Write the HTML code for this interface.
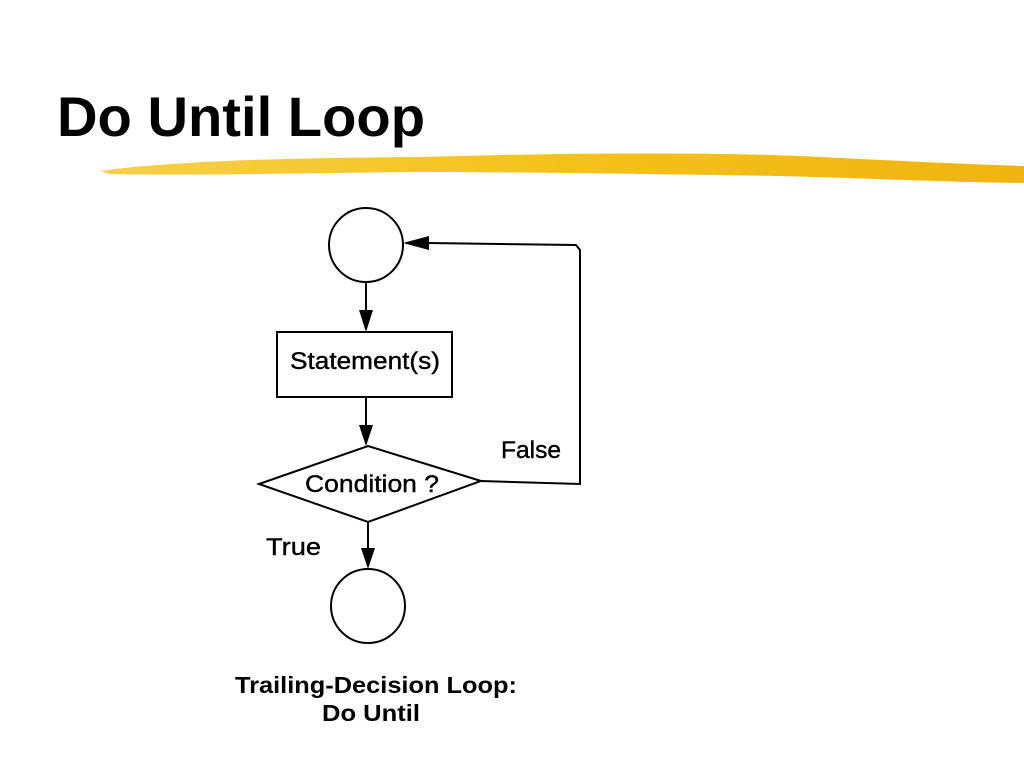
<!DOCTYPE html>
<html><head><style>
body{margin:0;background:#fff;}
svg{display:block;}
</style></head><body>
<svg width="1024" height="768" viewBox="0 0 1024 768" xmlns="http://www.w3.org/2000/svg">
<defs>
<linearGradient id="g" x1="0" x2="1" y1="0" y2="0">
<stop offset="0" stop-color="#f7d04a"/>
<stop offset="0.5" stop-color="#f3c21a"/>
<stop offset="1" stop-color="#f0b410"/>
</linearGradient>
</defs>
<text x="57" y="136" font-family="Liberation Sans, sans-serif" font-weight="bold" font-size="56" textLength="368" lengthAdjust="spacingAndGlyphs" fill="#000">Do Until Loop</text>
<path d="M100,171 C180,160 300,158 420,157 C560,153 700,152 800,156 C880,160 960,164 1024,166 L1024,183 C940,182 860,178 780,176 C650,174 520,172 420,172 C300,173 190,176 110,174 Z" fill="url(#g)"/>
<g stroke="#000" stroke-width="2" fill="none">
<circle cx="366" cy="245" r="37"/>
<rect x="277" y="332" width="175" height="65"/>
<polygon points="259,484 368,446 481,481 368,522"/>
<circle cx="368" cy="606" r="37"/>
<line x1="366" y1="282" x2="366" y2="312"/>
<line x1="366" y1="397" x2="366" y2="428"/>
<line x1="368" y1="522" x2="368" y2="550"/>
<polyline points="481,481 580,484 580,250 576,245 428,243"/>
</g>
<g fill="#000">
<polygon points="359,310 373,310 366,332"/>
<polygon points="359,425 373,425 366,446"/>
<polygon points="361,548 375,548 368,569"/>
<polygon points="403,243 429,236 429,250"/>
</g>
<g font-family="Liberation Sans, sans-serif" font-size="24" fill="#000" stroke="#000" stroke-width="0.4">
<text x="290" y="369" textLength="150" lengthAdjust="spacingAndGlyphs">Statement(s)</text>
<text x="305" y="492" textLength="134" lengthAdjust="spacingAndGlyphs">Condition ?</text>
<text x="501" y="458" textLength="60" lengthAdjust="spacingAndGlyphs">False</text>
<text x="266" y="555" textLength="55" lengthAdjust="spacingAndGlyphs">True</text>
</g>
<g font-family="Liberation Sans, sans-serif" font-weight="bold" font-size="23" fill="#000">
<text x="235" y="693" textLength="282" lengthAdjust="spacingAndGlyphs">Trailing-Decision Loop:</text>
<text x="322" y="721" textLength="98" lengthAdjust="spacingAndGlyphs">Do Until</text>
</g>
</svg>
</body></html>
